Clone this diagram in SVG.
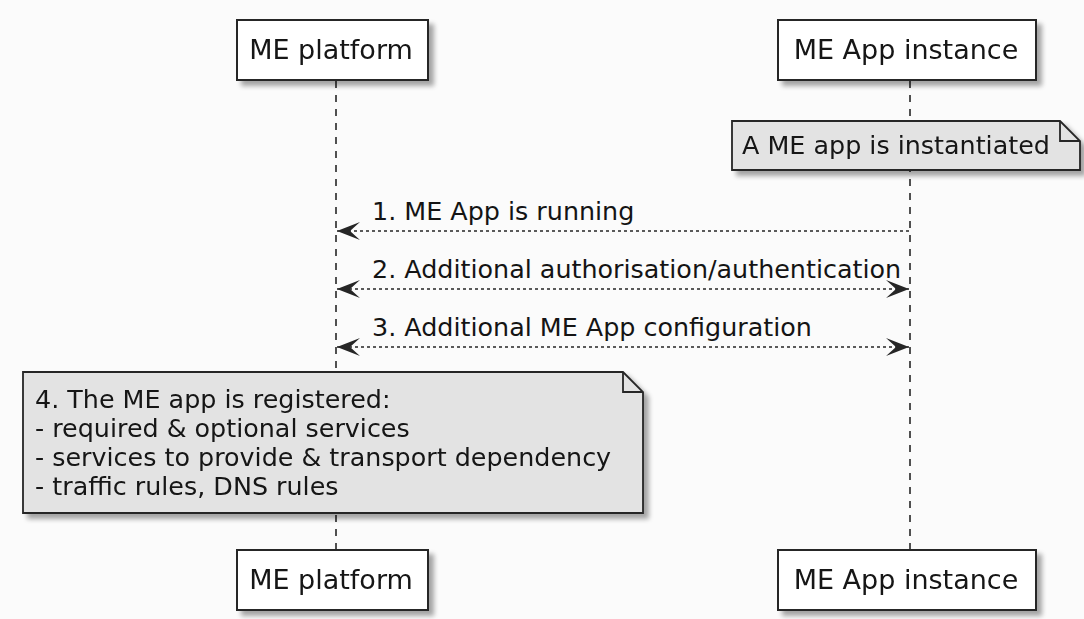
<svg xmlns="http://www.w3.org/2000/svg" width="1084" height="619" viewBox="0 0 1084 619">
  <defs>
    <filter id="shadow" x="-10%" y="-10%" width="130%" height="140%">
      <feGaussianBlur in="SourceAlpha" stdDeviation="2.5"/>
      <feOffset dx="5" dy="5" result="b"/>
      <feComponentTransfer><feFuncA type="linear" slope="0.35"/></feComponentTransfer>
      <feMerge><feMergeNode/><feMergeNode in="SourceGraphic"/></feMerge>
    </filter>
    <marker id="head" viewBox="0 0 23 20" refX="23" refY="10" markerWidth="23" markerHeight="20" markerUnits="userSpaceOnUse" orient="auto-start-reverse">
      <path d="M0,1 L23,10 L0,19 L10,10 Z" fill="#262626"/>
    </marker>
  </defs>
  <style>
    .bg { fill: #fbfbfb; }
    .actor { fill: #ffffff; stroke: #262626; stroke-width: 2; }
    .note { fill: #e3e3e3; stroke: #262626; stroke-width: 1.8; }
    .fold { fill: none; stroke: #262626; stroke-width: 1.8; }
    .life { stroke: #262626; stroke-width: 1.6; stroke-dasharray: 7 7; }
    .msg { stroke: #262626; stroke-width: 1.6; stroke-dasharray: 3 3; fill: none; }
    text { font-family: "DejaVu Sans", Verdana, sans-serif; fill: #141414; }
    .big { font-size: 27px; }
    .lbl { font-size: 25.4px; }
  </style>

  <rect class="bg" x="0" y="0" width="1084" height="619"/>

  <!-- lifelines -->
  <g id="lifelines">
    <line class="life" x1="336" y1="81" x2="336" y2="550"/>
    <line class="life" x1="910" y1="81" x2="910" y2="550"/>
  </g>

  <!-- participants, top -->
  <g id="platform-top" filter="url(#shadow)">
    <rect class="actor" x="237" y="20" width="191" height="60"/>
    <text class="big" x="331" y="59" text-anchor="middle">ME platform</text>
  </g>
  <g id="app-top" filter="url(#shadow)">
    <rect class="actor" x="778" y="20" width="258" height="60"/>
    <text class="big" x="906" y="59" text-anchor="middle">ME App instance</text>
  </g>

  <!-- note over the app instance -->
  <g id="note-instantiated" filter="url(#shadow)">
    <path class="note" d="M732,121 L1060,121 L1080,141 L1080,170 L732,170 Z"/>
    <path class="fold" d="M1060,121 L1060,141 L1080,141"/>
    <text class="lbl" x="742" y="154">A ME app is instantiated</text>
  </g>

  <!-- messages -->
  <g id="connectors">
    <line class="msg" x1="909" y1="231" x2="337" y2="231" marker-end="url(#head)"/>
    <line class="msg" x1="337" y1="289" x2="909" y2="289" marker-start="url(#head)" marker-end="url(#head)"/>
    <line class="msg" x1="337" y1="347" x2="909" y2="347" marker-start="url(#head)" marker-end="url(#head)"/>
    <text class="lbl" x="372" y="220">1. ME App is running</text>
    <text class="lbl" x="372" y="278">2. Additional authorisation/authentication</text>
    <text class="lbl" x="372" y="336">3. Additional ME App configuration</text>
  </g>

  <!-- registration note -->
  <g id="note-registered" filter="url(#shadow)">
    <path class="note" d="M23,372 L623,372 L643,392 L643,513 L23,513 Z"/>
    <path class="fold" d="M623,372 L623,392 L643,392"/>
    <text class="lbl" x="35" y="408">4. The ME app is registered:</text>
    <text class="lbl" x="35" y="437">- required &amp; optional services</text>
    <text class="lbl" x="35" y="466">- services to provide &amp; transport dependency</text>
    <text class="lbl" x="35" y="495">- traffic rules, DNS rules</text>
  </g>

  <!-- participants, bottom -->
  <g id="platform-bottom" filter="url(#shadow)">
    <rect class="actor" x="237" y="550" width="191" height="60"/>
    <text class="big" x="331" y="589" text-anchor="middle">ME platform</text>
  </g>
  <g id="app-bottom" filter="url(#shadow)">
    <rect class="actor" x="778" y="550" width="258" height="60"/>
    <text class="big" x="906" y="589" text-anchor="middle">ME App instance</text>
  </g>
</svg>
